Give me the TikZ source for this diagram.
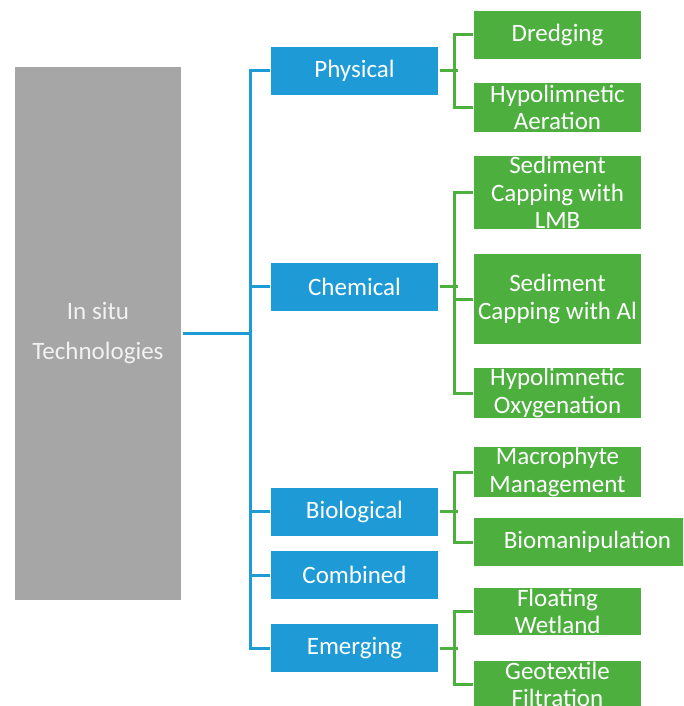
\documentclass[tikz,border=0pt]{standalone}
\usepackage{fontspec}
\setmainfont{Carlito}
\definecolor{rootgray}{HTML}{A6A6A6}
\definecolor{catblue}{HTML}{1E9BD7}
\definecolor{leafgreen}{HTML}{4CAF3E}
\begin{document}
\begin{tikzpicture}[x=1pt, y=-1pt, line width=3pt,
	box/.style = {inner sep=0pt, align=center, text=white, font=\fontsize{25}{27.5}\selectfont},
	root/.style = {box, fill=rootgray, minimum width=166pt, minimum height=533pt, font=\fontsize{25}{40}\selectfont, text=white!95!black},
	cat/.style = {box, fill=catblue, minimum width=167pt, minimum height=48pt},
	leaf/.style = {box, fill=leafgreen, minimum width=167pt},
	bluelink/.style = {draw=catblue},
	greenlink/.style = {draw=leafgreen}]
		\clip (0,0) rectangle (683,706);
		\fill[white] (0,0) rectangle (683,706);
		
		\node[root] (root) at (98,333.5) {In situ\\Technologies};
		
		\node[cat] (phys) at (354.5,71) {Physical};
		\node[cat] (chem) at (354.5,286.5) {Chemical};
		\node[cat] (bio) at (354.5,511.5) {Biological};
		\node[cat] (comb) at (354.5,575) {Combined};
		\node[cat] (emer) at (354.5,648) {Emerging};
		
		\node[leaf, minimum height=48pt] (dredg) at (557.5,35) {Dredging};
		\node[leaf, minimum height=49pt] (aera) at (557.5,107.5) {Hypolimnetic\\Aeration};
		\node[leaf, minimum height=73pt] (lmb) at (557.5,192.5) {Sediment\\Capping with\\LMB};
		\node[leaf, minimum height=90pt] (alcap) at (557.5,299) {Sediment\\Capping with Al};
		\node[leaf, minimum height=48pt] (oxyg) at (557.5,393) {Hypolimnetic\\Oxygenation};
		\node[leaf, minimum height=48pt] (macro) at (557.5,472) {Macrophyte\\Management};
		\node[leaf, minimum height=48pt, minimum width=227pt] (biom) at (587.5,542) {Biomanipulation};
		\node[leaf, minimum height=47pt] (float) at (557.5,611.5) {Floating\\Wetland};
		\node[leaf, minimum height=47pt] (geo) at (557.5,684.5) {Geotextile\\Filtration};
		
		\coordinate (trunk) at (252,0);
		
		% blue tree
		\draw[bluelink] (root.east) -- (root.east -| trunk);
		\draw[bluelink] (phys.west) -- ++(-19,0) |- (emer.west);
		\draw[bluelink] (chem.west) -- ++(-19,0);
		\draw[bluelink] (bio.west) -- ++(-19,0);
		\draw[bluelink] (comb.west) -- ++(-19,0);
		
		% green branches
		\draw[greenlink] (phys.east) -- ++(18,0);
		\draw[greenlink] (dredg.west) -- ++(-18,0) |- (aera.west);
		\draw[greenlink] (chem.east) -- ++(18,0);
		\draw[greenlink] (lmb.west) -- ++(-18,0) |- (oxyg.west);
		\draw[greenlink] (alcap.west) -- ++(-18,0);
		\draw[greenlink] (bio.east) -- ++(18,0);
		\draw[greenlink] (macro.west) -- ++(-18,0) |- (biom.west);
		\draw[greenlink] (emer.east) -- ++(18,0);
		\draw[greenlink] (float.west) -- ++(-18,0) |- (geo.west);
		
	\end{tikzpicture}
\end{document}
